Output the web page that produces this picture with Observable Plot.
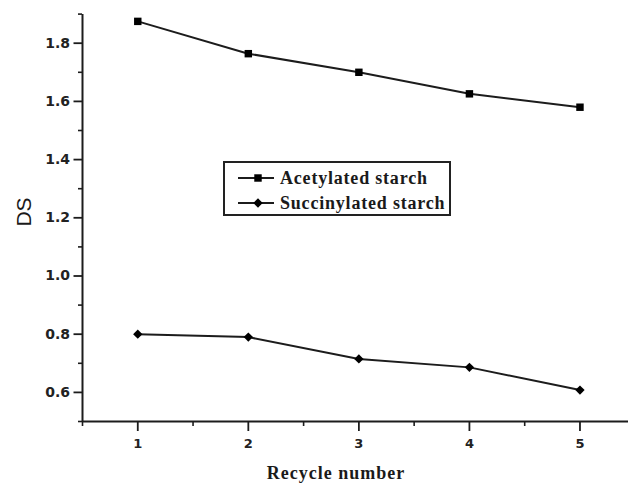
<!DOCTYPE html>
<html>
<head>
<meta charset="utf-8">
<script src="https://cdn.jsdelivr.net/npm/d3@7"></script>
<script src="https://cdn.jsdelivr.net/npm/@observablehq/plot@0.6"></script>
<style>
  html, body { margin: 0; padding: 0; background: #fff; }
  #chart { position: relative; width: 628px; height: 483px; overflow: hidden; background: #fff; }
  #chart > svg { position: absolute; left: 0; top: 0; }
  .axis-label, .legend-text {
    position: absolute;
    font-family: "Liberation Serif", "DejaVu Serif", serif;
    font-weight: bold;
    color: #1a1a1a;
    white-space: nowrap;
  }
  .y-label {
    position: absolute;
    font-family: "Liberation Sans", Arial, sans-serif;
    font-size: 21px;
    color: #1a1a1a;
    transform: translate(-50%, -50%) rotate(-90deg);
    white-space: nowrap;
  }
  .legend {
    position: absolute;
    border: 2px solid #222;
    background: #fff;
    box-sizing: border-box;
  }
  .legend-row { position: absolute; left: 12px; height: 20px; display: flex; align-items: center; }
  .legend-row svg { position: static; display: block; flex: none; }
  .legend-row .legend-text { position: static; font-size: 18px; letter-spacing: 0.8px; margin-left: 5px; }
  g[aria-label="x-axis tick label"] text,
  g[aria-label="y-axis tick label"] text {
    font-family: "DejaVu Sans", sans-serif;
    font-weight: bold;
    fill: #222;
  }
</style>
</head>
<body>
<div id="chart"></div>
<script>
// Degree of substitution of the modified starches over successive recycles
const cycles = [1, 2, 3, 4, 5];
const acetylated = [1.875, 1.764, 1.70, 1.626, 1.58];
const succinylated = [0.80, 0.79, 0.715, 0.686, 0.608];

const seriesNames = ["Acetylated starch", "Succinylated starch"];
const xMajorTicks = [1, 2, 3, 4, 5];
const xMinorTicks = [0.5, 1.5, 2.5, 3.5, 4.5, 5.5];
const yMajorTicks = [0.6, 0.8, 1.0, 1.2, 1.4, 1.6, 1.8];
const yMinorTicks = [0.5, 0.7, 0.9, 1.1, 1.3, 1.5, 1.7, 1.9];
const xLabel = "Recycle number";
const yLabel = "DS";

const acetylRows = cycles.map((c, i) => ({cycle: c, ds: acetylated[i]}));
const succinylRows = cycles.map((c, i) => ({cycle: c, ds: succinylated[i]}));

const ink = "#1c1c1c";

const plot = Plot.plot({
  width: 628,
  height: 483,
  marginLeft: 82,
  marginRight: 0,
  marginTop: 14,
  marginBottom: 62,
  style: {background: "transparent", overflow: "visible"},
  x: {domain: [0.5, 5.5], range: [82, 634.75]},
  y: {domain: [0.5, 1.9], range: [421, 13.6]},
  marks: [
    // minor ticks
    Plot.axisX({ticks: xMinorTicks, tickSize: 5, text: null, stroke: ink, strokeWidth: 1.6, label: null}),
    Plot.axisY({ticks: yMinorTicks, tickSize: 4, text: null, stroke: ink, strokeWidth: 1.6, label: null}),
    // major ticks with labels
    Plot.axisX({ticks: xMajorTicks, tickSize: 10, tickPadding: 7, tickFormat: d3.format("d"),
      stroke: ink, strokeWidth: 1.8, fontSize: 13, label: null}),
    Plot.axisY({ticks: yMajorTicks, tickSize: 8.5, tickPadding: 4, tickFormat: d3.format(".1f"),
      stroke: ink, strokeWidth: 1.8, fontSize: 14, label: null}),
    // axis lines
    Plot.ruleX([0.5], {stroke: ink, strokeWidth: 2}),
    Plot.ruleY([0.5], {stroke: ink, strokeWidth: 2}),
    // series
    Plot.line(acetylRows, {x: "cycle", y: "ds", stroke: ink, strokeWidth: 2}),
    Plot.dot(acetylRows, {x: "cycle", y: "ds", symbol: "square", r: 4.2, fill: "#000", stroke: "none"}),
    Plot.line(succinylRows, {x: "cycle", y: "ds", stroke: ink, strokeWidth: 2}),
    Plot.dot(succinylRows, {x: "cycle", y: "ds", symbol: "diamond2", r: 4.2, fill: "#000", stroke: "none"})
  ]
});

const chart = document.getElementById("chart");
chart.appendChild(plot);

// axis titles
const xl = document.createElement("div");
xl.className = "axis-label";
xl.textContent = xLabel;
xl.style.fontSize = "18px";
xl.style.letterSpacing = "1px";
xl.style.left = "336px";
xl.style.top = "473px";
xl.style.transform = "translate(-50%, -50%)";
chart.appendChild(xl);

const yl = document.createElement("div");
yl.className = "y-label";
yl.textContent = yLabel;
yl.style.left = "24px";
yl.style.top = "212px";
chart.appendChild(yl);

// legend box with line + symbol swatches
const legend = document.createElement("div");
legend.className = "legend";
Object.assign(legend.style, {left: "223px", top: "161px", width: "228px", height: "55px"});
seriesNames.forEach((name, i) => {
  const row = document.createElement("div");
  row.className = "legend-row";
  row.style.top = (5 + i * 25) + "px";
  const sw = d3.create("svg").attr("width", 38).attr("height", 20);
  sw.append("line").attr("x1", 1).attr("x2", 37).attr("y1", 10).attr("y2", 10)
    .attr("stroke", ink).attr("stroke-width", 2);
  const sym = i === 0 ? d3.symbolSquare : d3.symbolDiamond2;
  sw.append("path").attr("d", d3.symbol(sym, Math.PI * 4.2 * 4.2)())
    .attr("transform", "translate(21,10)").attr("fill", "#000");
  row.appendChild(sw.node());
  const t = document.createElement("span");
  t.className = "legend-text";
  t.textContent = name;
  row.appendChild(t);
  legend.appendChild(row);
});
chart.appendChild(legend);
</script>
</body>
</html>
